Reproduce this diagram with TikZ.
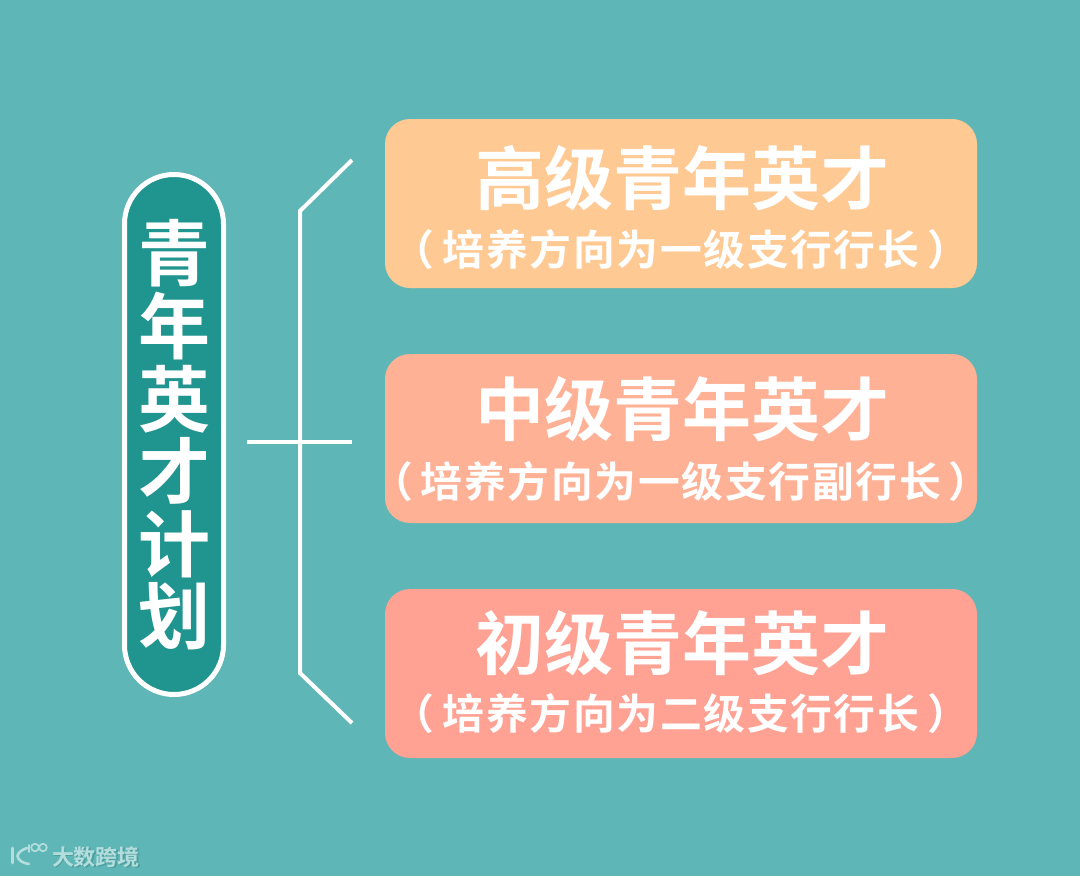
\documentclass[tikz,border=0pt]{standalone}
\usepackage{fontspec}
\newfontfamily\cjkb{Noto Sans CJK SC Bold}
\newfontfamily\cjkc[LetterSpace=4]{Noto Sans CJK SC Bold}
\newfontfamily\cjkm{Noto Sans CJK SC Bold}
\definecolor{bg}{HTML}{5FB6B6}
\definecolor{pillc}{HTML}{20958F}
\definecolor{boxa}{HTML}{FFC993}
\definecolor{boxb}{HTML}{FFB195}
\definecolor{boxc}{HTML}{FFA193}
\definecolor{wm}{HTML}{B4DEDE}
\definecolor{wmd}{HTML}{4F9FA0}
\tikzset{
  rbox/.style={rounded corners=25pt,minimum width=592pt,minimum height=169pt,inner sep=0pt,outer sep=0pt},
  ttl/.style={text=white,font=\cjkb\fontsize{69}{69}\selectfont,inner sep=0pt},
  sub/.style={text=white,font=\cjkc\fontsize{41.8}{42}\selectfont,inner sep=0pt},
  conn/.style={draw=white,line width=4pt},
  wmk/.style={text=wm,font=\cjkm\fontsize{22}{22}\selectfont,inner sep=0pt},
  logo/.style={draw=wm,line width=2.6pt,line cap=round},
}
\begin{document}
\begin{tikzpicture}[x=1pt,y=-1pt]
\useasboundingbox (0,0) rectangle (1080,876);
\fill[bg] (0,0) rectangle (1080,876);
% left pill
\node[draw=white,fill=pillc,line width=5pt,rounded corners=49.5pt,minimum width=99pt,minimum height=520pt,inner sep=0pt] (pill) at (174,434.5) {};
\node[ttl,text width=80pt,align=center,font=\cjkb\fontsize{72}{72.6}\selectfont] (vt) at (174,435) {青\\年\\英\\才\\计\\划};
% boxes
\node[rbox,fill=boxa] (b1) at (681,203.5) {};
\node[rbox,fill=boxb] (b2) at (681,438.5) {};
\node[rbox,fill=boxc] (b3) at (681,673.5) {};
\node[ttl] (t1) at (682,178) {高级青年英才};
\node[sub] (s1) at (681,250) {（\hspace{8pt}培养方向为一级支行行长\hspace{8pt}）};
\node[ttl] (t2) at (682,409) {中级青年英才};
\node[sub] (s2) at (681,482) {（\hspace{8pt}培养方向为一级支行副行长\hspace{8pt}）};
\node[ttl] (t3) at (682,643) {初级青年英才};
\node[sub] (s3) at (681,714) {（\hspace{8pt}培养方向为二级支行行长\hspace{8pt}）};
% bracket
\coordinate (p1) at (352,160);
\coordinate (p2) at (300,211);
\coordinate (p3) at (300,673);
\coordinate (p4) at (352,723);
\coordinate (h1) at (247,441.5);
\coordinate (h2) at (352,441.5);
\draw[conn,line join=miter] (p1) -- (p2) -- (p3) -- (p4);
\draw[conn] (h1) -- (h2);
% watermark
\node[wmk,text=wmd] (ws) at (97,858) {大数跨境};
\node[wmk] (w) at (96,857) {大数跨境};
\draw[logo] (12.5,848) -- (12.5,863);
\draw[logo] (27,848) .. controls (21,850) and (18,853) .. (17.5,856) .. controls (18,860) and (22,863) .. (29,864);
\draw[logo,line width=1.6pt] (29,852) -- (29,845);
\draw[logo,line width=1.6pt] (35,847.5) circle (3.8pt);
\draw[logo,line width=1.6pt] (43,847.5) circle (3.8pt);
\end{tikzpicture}
\end{document}
